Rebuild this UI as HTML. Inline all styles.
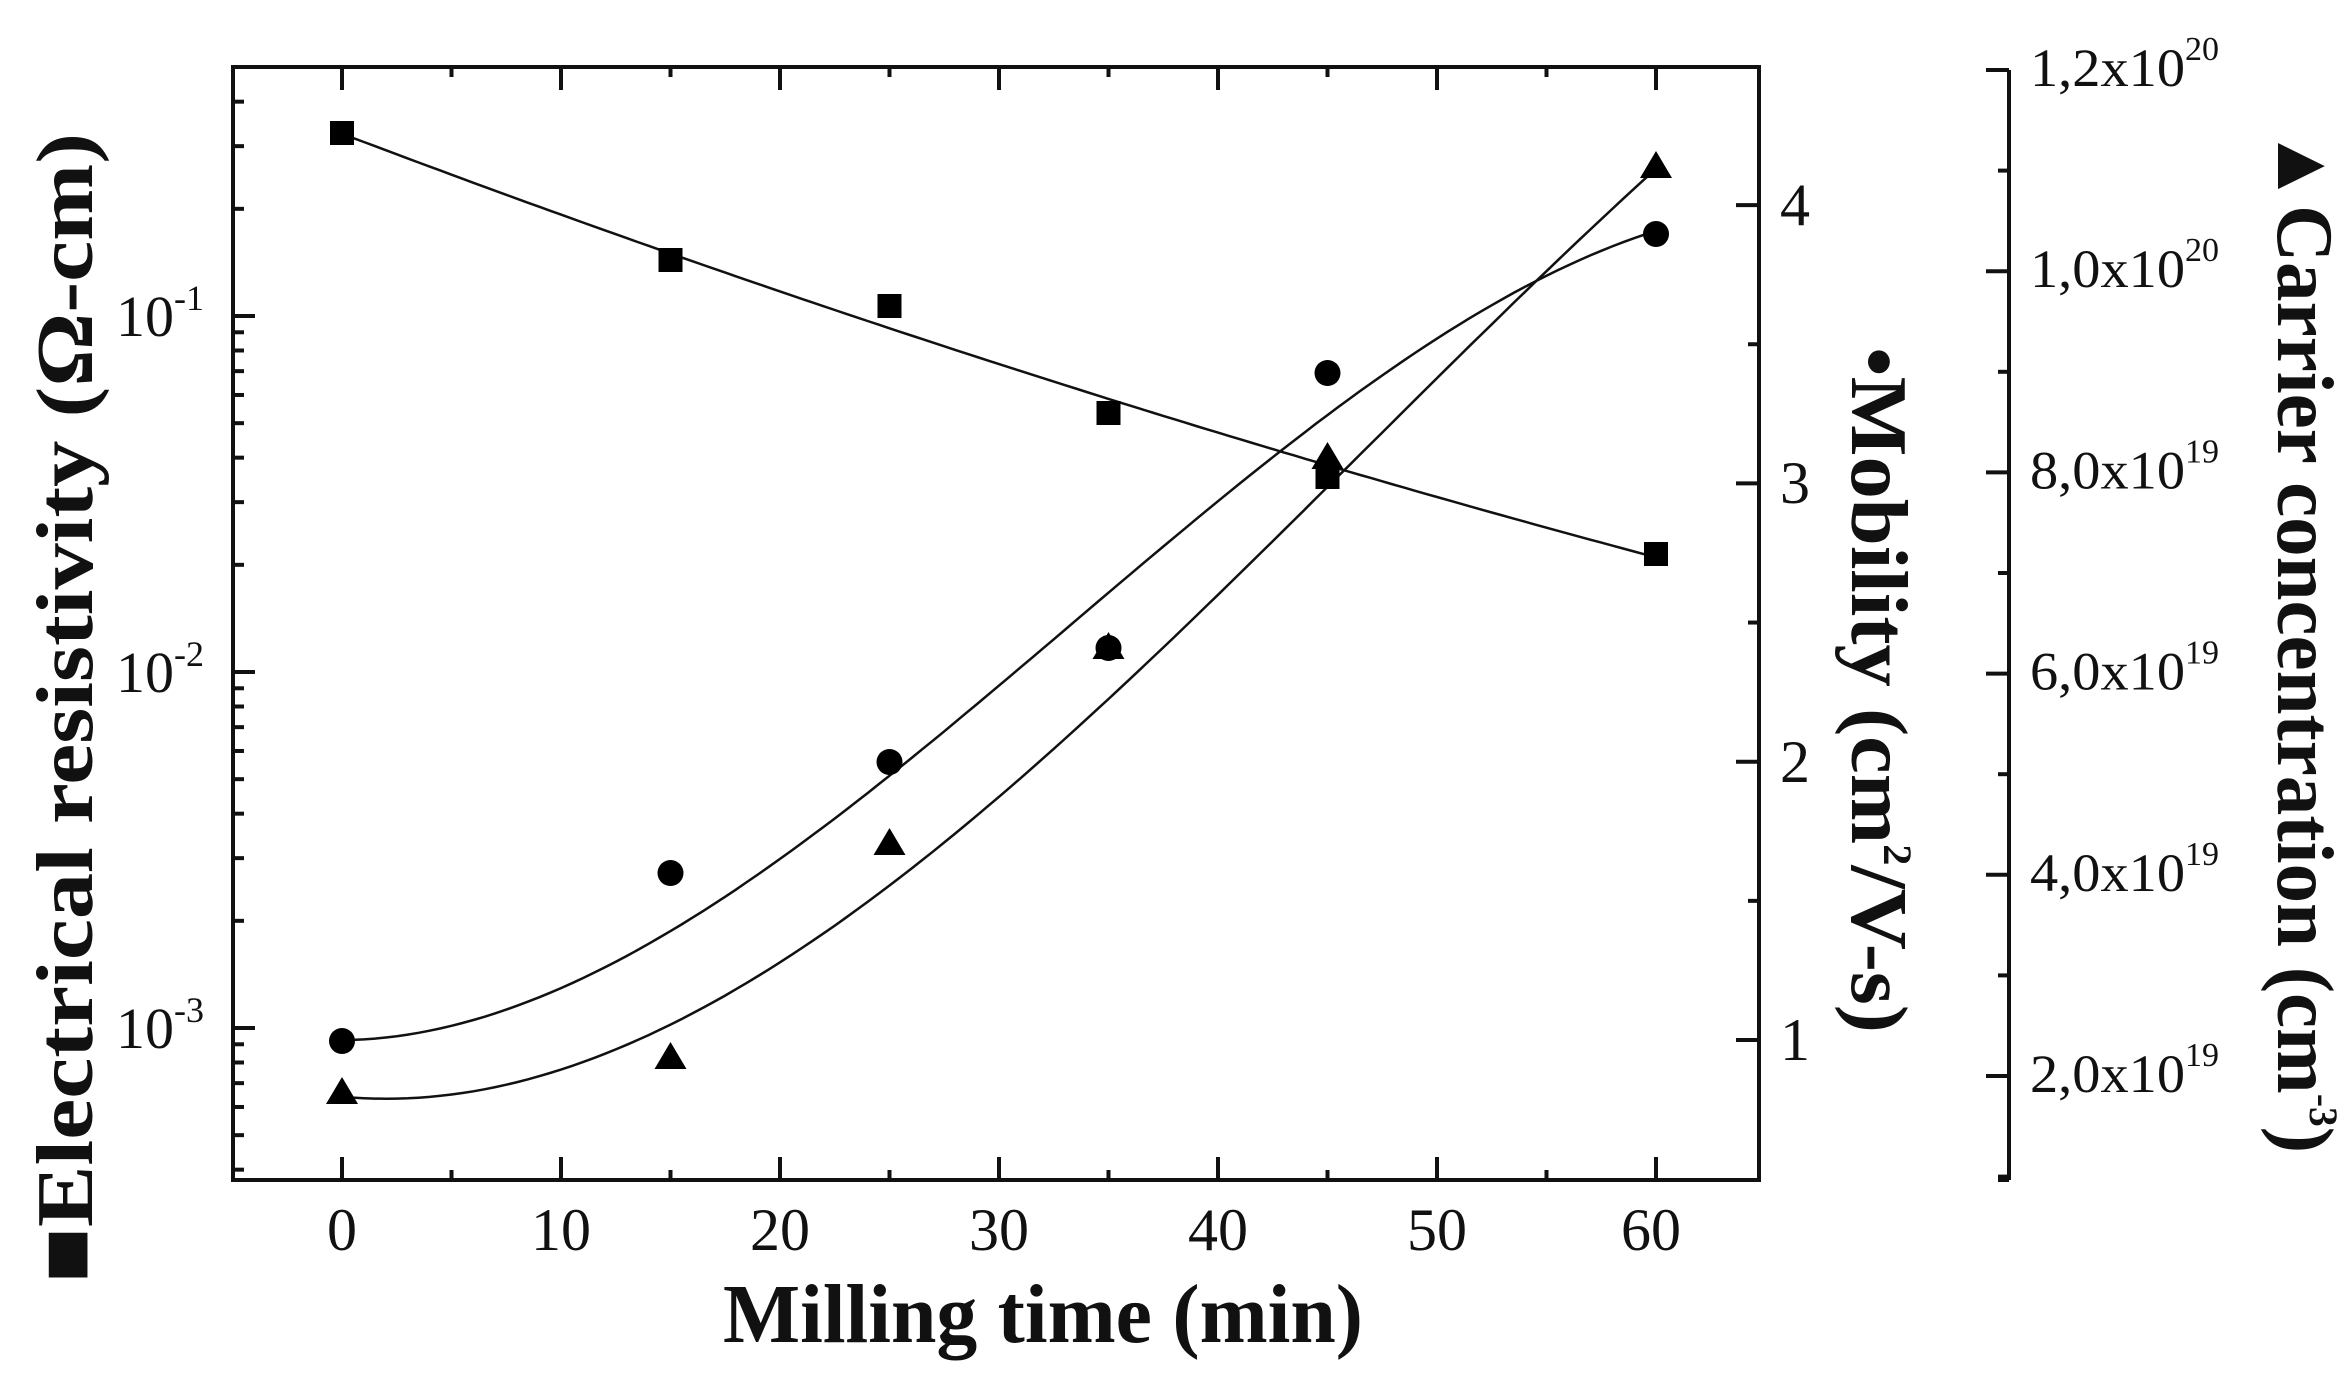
<!DOCTYPE html>
<html><head><meta charset="utf-8"><style>
html,body{margin:0;padding:0;background:#fff;}
svg{display:block;}
text{font-family:"Liberation Serif",serif;fill:#111;}
</style></head><body>
<svg id="s" width="2347" height="1385" viewBox="0 0 2347 1385" xmlns="http://www.w3.org/2000/svg">
<rect width="2347" height="1385" fill="#fff"/>
<g id="ax" stroke="#111" stroke-width="4" fill="none">
<rect x="233" y="67" width="1526" height="1113"/>
<line x1="2009" y1="70" x2="2009" y2="1180"/>
</g>
<g id="ticks" stroke="#111" stroke-width="4"></g>
<g id="curves" stroke="#111" stroke-width="2.5" fill="none"></g>
<g id="marks" fill="#000"></g>
<g font-size="60" text-anchor="middle">
<text x="342" y="1250">0</text><text x="561" y="1250">10</text><text x="780" y="1250">20</text>
<text x="999" y="1250">30</text><text x="1218" y="1250">40</text><text x="1437" y="1250">50</text><text x="1651" y="1250">60</text>
</g>
<g font-size="58" text-anchor="end">
<text x="204" y="336">10<tspan font-size="36" dy="-26">-1</tspan></text>
<text x="204" y="692">10<tspan font-size="36" dy="-26">-2</tspan></text>
<text x="204" y="1048">10<tspan font-size="36" dy="-26">-3</tspan></text>
</g>
<g font-size="60">
<text x="1780" y="225">4</text><text x="1780" y="503">3</text>
<text x="1780" y="782">2</text><text x="1780" y="1060">1</text>
</g>
<g font-size="54" id="cl"></g>
<text x="1043" y="1342" font-size="84" font-weight="bold" text-anchor="middle" textLength="640" lengthAdjust="spacingAndGlyphs">Milling time (min)</text>
<text transform="translate(92,708) rotate(-90)" font-size="80" font-weight="bold" text-anchor="middle" textLength="1150" lengthAdjust="spacingAndGlyphs">■Electrical resistivity (Ω-cm)</text>
<text transform="translate(1852,690) rotate(90)" font-size="80" font-weight="bold" text-anchor="middle" textLength="686" lengthAdjust="spacingAndGlyphs">•Mobility (cm<tspan font-size="40" dy="-32">2</tspan><tspan dy="32">/V-s)</tspan></text>
<text transform="translate(2278,640) rotate(90)" font-size="80" font-weight="bold" text-anchor="middle" textLength="1026" lengthAdjust="spacingAndGlyphs">▲Carrier concentration (cm<tspan font-size="40" dy="-32">-3</tspan><tspan dy="32">)</tspan></text>
</svg>
<script>
var NS="http://www.w3.org/2000/svg";
function el(p,t,a){var e=document.createElementNS(NS,t);for(var k in a)e.setAttribute(k,a[k]);document.getElementById(p).appendChild(e);return e;}
function X(m){return 342+m*21.9;}
for(var m=-5;m<=65;m+=5){var x=X(m);if(x<=235||x>=1757)continue;var L=(m%10==0)?23:10;
el("ticks","line",{x1:x,y1:1180,x2:x,y2:1180-L});el("ticks","line",{x1:x,y1:67,x2:x,y2:67+L});}
var dec=356;function LY(v){return 672-Math.log10(v/0.01)*dec;}
for(var e=-4;e<=0;e++){for(var k=1;k<10;k++){var v=k*Math.pow(10,e);var y=LY(v);if(y<69||y>1178)continue;
el("ticks","line",{x1:233,y1:y,x2:233+(k==1?22:11),y2:y});}}
for(var u=0.5;u<=4.5;u+=0.5){var y=1040-(u-1)*278.3;if(y<69||y>1178)continue;var L=(u%1==0)?23:11;
el("ticks","line",{x1:1759,y1:y,x2:1759-L,y2:y});}
for(var i=0;i<12;i++){var y=70+i*100.6;if(y>1178)continue;var L=(i%2==0)?23:11;
el("ticks","line",{x1:2009,y1:y,x2:2009-L,y2:y});}
el("ticks","line",{x1:2009,y1:1180,x2:1998,y2:1180});
var labs=[["1,2","20"],["1,0","20"],["8,0","19"],["6,0","19"],["4,0","19"],["2,0","19"]];
for(var i=0;i<6;i++){var t=el("cl","text",{x:2030,y:70+i*201.2+16});
t.innerHTML="<tspan textLength='155' lengthAdjust='spacingAndGlyphs'>"+labs[i][0]+"x10</tspan><tspan font-size='34' dy='-26'>"+labs[i][1]+"</tspan>";}
function fit(pts,deg){var n=deg+1,A=[],b=[];for(var i=0;i<n;i++){A.push(new Array(n).fill(0));b.push(0);}
pts.forEach(function(p){var w=p[2]||1,x=p[0]/60;for(var i=0;i<n;i++){for(var j=0;j<n;j++)A[i][j]+=w*Math.pow(x,i+j);b[i]+=w*p[1]*Math.pow(x,i);}});
for(var i=0;i<n;i++){var mx=i;for(var r=i+1;r<n;r++)if(Math.abs(A[r][i])>Math.abs(A[mx][i]))mx=r;var t=A[i];A[i]=A[mx];A[mx]=t;t=b[i];b[i]=b[mx];b[mx]=t;
for(var r=0;r<n;r++){if(r==i)continue;var f=A[r][i]/A[i][i];for(var c=i;c<n;c++)A[r][c]-=f*A[i][c];b[r]-=f*b[i];}}
var co=b.map(function(v,i){return v/A[i][i];});
return function(m){var x=m/60,s=0;for(var i=0;i<n;i++)s+=co[i]*Math.pow(x,i);return s;};}
function draw(f){var d="";for(var m=0;m<=60.01;m+=0.5){d+=(m==0?"M":" L")+X(m).toFixed(1)+","+f(m).toFixed(1);}el("curves","path",{d:d});}
draw(fit([[0,138],[15,244],[30,367],[45,471],[60,554]],2));
draw(fit([[0,1041,20],[5,1010],[10,974],[15,931],[25,790],[35,606],[45,411],[50,322],[55,270],[60,232,10]],3));
draw(fit([[0,1097,20],[5,1090],[10,1065],[15,1018],[25,898],[35,704],[45,476],[60,169,10]],3));
var S=[[0,133],[15,260],[25,306],[35,413],[45,477],[60,554]];
S.forEach(function(p){el("marks","rect",{x:X(p[0])-12,y:p[1]-12,width:24,height:24});});
var C=[[0,1041],[15,873],[25,762],[35,648],[45,373],[60,234]];
C.forEach(function(p){el("marks","circle",{cx:X(p[0]),cy:p[1],r:13});});
var T=[[0,1092],[15,1057],[25,843],[35,647],[45,457],[60,166]];
T.forEach(function(p){var x=X(p[0]),y=p[1];el("marks","polygon",{points:(x-16)+","+(y+12)+" "+(x+16)+","+(y+12)+" "+x+","+(y-15)});});
</script>
</body></html>
